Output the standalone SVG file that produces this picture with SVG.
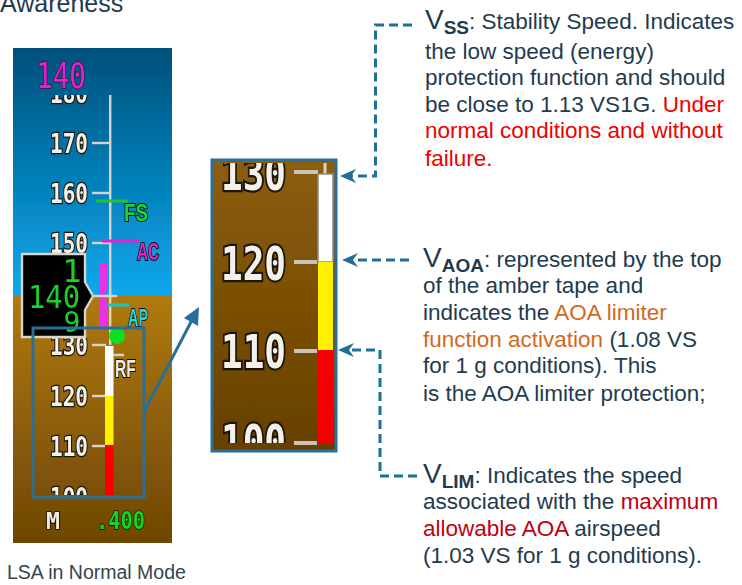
<svg xmlns="http://www.w3.org/2000/svg" width="742" height="585" viewBox="0 0 742 585">
<style>
.t{font-family:"Liberation Sans",Arial,sans-serif;font-size:22.500px;fill:#1f3b4f}
.red{fill:#f00000}.org{fill:#d2691e}.dred{fill:#c00010}
.b{font-weight:bold}
.n{font-family:"DejaVu Sans Mono","Liberation Mono",monospace;font-weight:bold;font-size:27px;fill:#f4f0ea;stroke:#1c1408;stroke-width:2.600px;paint-order:stroke;text-anchor:end}
.big{font-size:46px;stroke-width:4.500px}
.lab{font-family:"Liberation Sans",Arial,sans-serif;font-size:24px;font-weight:bold;stroke:#14100a;stroke-width:2px;paint-order:stroke}
.g{font-family:"DejaVu Sans Mono","Liberation Mono",monospace;fill:#1ad02c}
.tick{stroke:#d8d4cc;stroke-width:2.400}
.dash{fill:none;stroke:#1f6f98;stroke-width:3;stroke-dasharray:9 5}
</style>
<defs>
<linearGradient id="sky" x1="0" y1="0" x2="0" y2="1"><stop offset="0" stop-color="#00507a"/><stop offset="1" stop-color="#0aa8ee"/></linearGradient>
<linearGradient id="gnd" x1="0" y1="0" x2="0" y2="1"><stop offset="0" stop-color="#b07a08"/><stop offset="1" stop-color="#6e4606"/></linearGradient>
<linearGradient id="gnd2" x1="0" y1="0" x2="0" y2="1"><stop offset="0" stop-color="#8d5e08"/><stop offset="1" stop-color="#664004"/></linearGradient>
<clipPath id="c1"><rect x="13" y="95" width="159" height="400"/></clipPath>
<clipPath id="c2"><rect x="214" y="163" width="120" height="280"/></clipPath>
<marker id="ah" markerUnits="userSpaceOnUse" markerWidth="18" markerHeight="16" refX="5" refY="8" orient="auto"><path d="M0 1 L16 8 L0 15 L5 8 Z" fill="#1f6f98"/></marker>
<filter id="soft" x="-5%" y="-5%" width="110%" height="110%"><feGaussianBlur stdDeviation="0.45"/></filter>
</defs>

<text class="t" x="0" y="12" style="font-size:25px">Awareness</text>

<g id="pfd" filter="url(#soft)">
<rect x="13" y="48" width="159" height="248" fill="url(#sky)"/>
<rect x="13" y="295" width="159" height="248" fill="url(#gnd)"/>
<text x="36" y="88" font-family="DejaVu Sans Mono,Liberation Mono,monospace" font-size="35" fill="#e020d0" stroke="#3a1040" stroke-width="1.500" paint-order="stroke" textLength="50" lengthAdjust="spacingAndGlyphs">140</text>
<g clip-path="url(#c1)">
<text class="n" x="88" y="103" textLength="38" lengthAdjust="spacingAndGlyphs">180</text>
<text class="n" x="88" y="507" textLength="38" lengthAdjust="spacingAndGlyphs">100</text>
</g>
<rect x="109" y="95" width="2.400" height="250" fill="#d8d4cc"/>
<text class="n" x="88" y="153" textLength="38" lengthAdjust="spacingAndGlyphs">170</text><line class="tick" x1="92" y1="143" x2="110" y2="143"/>
<text class="n" x="88" y="203" textLength="38" lengthAdjust="spacingAndGlyphs">160</text><line class="tick" x1="92" y1="193" x2="110" y2="193"/>
<text class="n" x="88" y="253" textLength="38" lengthAdjust="spacingAndGlyphs">150</text><line class="tick" x1="92" y1="243" x2="110" y2="243"/>
<text class="n" x="88" y="355" textLength="38" lengthAdjust="spacingAndGlyphs">130</text><line class="tick" x1="92" y1="345" x2="106" y2="345"/>
<text class="n" x="88" y="406" textLength="38" lengthAdjust="spacingAndGlyphs">120</text><line class="tick" x1="92" y1="396" x2="105" y2="396"/>
<text class="n" x="88" y="456" textLength="38" lengthAdjust="spacingAndGlyphs">110</text><line class="tick" x1="92" y1="446" x2="105" y2="446"/>
<line x1="96" y1="201" x2="128" y2="201" stroke="#22c030" stroke-width="3"/>
<text class="lab" x="124" y="221" fill="#18d838" textLength="24" lengthAdjust="spacingAndGlyphs">FS</text>
<line x1="102" y1="241" x2="139" y2="241" stroke="#e020d0" stroke-width="3"/>
<text class="lab" x="137" y="260" fill="#e020d0" textLength="22" lengthAdjust="spacingAndGlyphs">AC</text>
<path d="M99 263H108V288L104 296L108 304V328H99Z" fill="#e830e8"/>
<line class="tick" x1="93" y1="296" x2="117" y2="296"/>
<line x1="108" y1="305" x2="129" y2="305" stroke="#1fc4c4" stroke-width="3"/>
<text class="lab" x="128" y="326" fill="#20d8e0" textLength="20" lengthAdjust="spacingAndGlyphs">AP</text>
<path d="M22 254H85V282L93 296L85 310V337H22Z" fill="#000" stroke="#d8d4cc" stroke-width="2.400"/>
<text class="g" x="28" y="308" font-size="32" textLength="52" lengthAdjust="spacingAndGlyphs">140</text>
<text class="g" x="72" y="282" font-size="32" text-anchor="middle">1</text>
<text class="g" x="72" y="332" font-size="28" text-anchor="middle">9</text>
<circle cx="117" cy="336" r="8" fill="#10e020"/>
<rect x="105" y="346" width="8.500" height="50" fill="#fff"/>
<rect x="105" y="396" width="8.500" height="49" fill="#fff000"/>
<rect x="105" y="445" width="8.500" height="50" fill="#f40000"/>
<line class="tick" x1="113" y1="355" x2="124" y2="355"/>
<text class="lab" x="115" y="377" fill="#f0ece4" textLength="21" lengthAdjust="spacingAndGlyphs">RF</text>
<text x="46" y="529" font-family="DejaVu Sans Mono,Liberation Mono,monospace" font-size="23" font-weight="bold" fill="#f0ece4" stroke="#14100a" stroke-width="1.600" paint-order="stroke" textLength="14" lengthAdjust="spacingAndGlyphs">M</text>
<text x="96" y="529" font-family="DejaVu Sans Mono,Liberation Mono,monospace" font-size="25" font-weight="bold" fill="#10d820" stroke="#14100a" stroke-width="1.400" paint-order="stroke" textLength="49" lengthAdjust="spacingAndGlyphs">.400</text>
</g>

<g id="inset" filter="url(#soft)">
<rect x="212" y="160" width="124" height="291" fill="url(#gnd2)"/>
<g clip-path="url(#c2)">
<text class="n big" x="286" y="190" textLength="65" lengthAdjust="spacingAndGlyphs">130</text>
<text class="n big" x="286" y="280" textLength="65" lengthAdjust="spacingAndGlyphs">120</text>
<text class="n big" x="286" y="368" textLength="65" lengthAdjust="spacingAndGlyphs">110</text>
<text class="n big" x="286" y="458" textLength="65" lengthAdjust="spacingAndGlyphs">100</text>
<line x1="325" y1="163" x2="325" y2="174" stroke="#d8d4cc" stroke-width="3"/>
</g>
<g stroke="#c8c4bc" stroke-width="4"><line x1="294" y1="172" x2="318" y2="172"/><line x1="294" y1="262" x2="317" y2="262"/><line x1="294" y1="351" x2="317" y2="351"/><line x1="294" y1="443" x2="317" y2="443"/></g>
<rect x="318" y="174" width="15" height="88" fill="#fff" stroke="#8a8a90" stroke-width="1.500"/>
<rect x="318" y="262" width="15" height="88" fill="#fff000"/>
<rect x="318" y="350" width="15" height="93" fill="#f40000"/>
</g>
<rect x="212" y="160" width="124" height="291" fill="none" stroke="#2a6f97" stroke-width="3"/>

<g id="connectors">
<rect x="33" y="328" width="111" height="169" fill="none" stroke="#2a6f97" stroke-width="3"/>
<line x1="144" y1="412" x2="192" y2="320" stroke="#2a6f97" stroke-width="3"/>
<path d="M199 307L198 326L184 318Z" fill="#2a6f97"/>
<path class="dash" d="M412 25H375.500V176H351" marker-end="url(#ah)"/>
<path class="dash" d="M409 260H353" marker-end="url(#ah)"/>
<path class="dash" d="M417 476H380V350H349" marker-end="url(#ah)"/>
</g>

<g id="vss">
<text class="t" x="425" y="29"><tspan style="font-size:28px">V</tspan><tspan class="b" style="font-size:19px" dy="5">SS</tspan><tspan dy="-5">: Stability Speed. Indicates</tspan></text>
<text class="t" x="425" y="59">the low speed (energy)</text>
<text class="t" x="425" y="85">protection function and should</text>
<text class="t" x="425" y="112">be close to 1.13 VS1G. <tspan class="red">Under</tspan></text>
<text class="t red" x="425" y="138">normal conditions and without</text>
<text class="t red" x="425" y="166">failure.</text>
</g>
<g id="vaoa">
<text class="t" x="423" y="267"><tspan style="font-size:28px">V</tspan><tspan class="b" style="font-size:19px" dy="5">AOA</tspan><tspan dy="-5">: represented by the top</tspan></text>
<text class="t" x="423" y="293">of the amber tape and</text>
<text class="t" x="423" y="320">indicates the <tspan class="org">AOA limiter</tspan></text>
<text class="t" x="423" y="347"><tspan class="org">function activation</tspan> (1.08 VS</text>
<text class="t" x="423" y="373">for 1 g conditions). This</text>
<text class="t" x="423" y="401">is the AOA limiter protection;</text>
</g>
<g id="vlim">
<text class="t" x="423" y="483"><tspan style="font-size:28px">V</tspan><tspan class="b" style="font-size:19px" dy="5">LIM</tspan><tspan dy="-5">: Indicates the speed</tspan></text>
<text class="t" x="423" y="509">associated with the <tspan class="dred">maximum</tspan></text>
<text class="t" x="423" y="536"><tspan class="dred">allowable AOA</tspan> airspeed</text>
<text class="t" x="423" y="563">(1.03 VS for 1 g conditions).</text>
</g>
<text class="t" x="7" y="579" style="font-size:19.500px;fill:#33454f">LSA in Normal Mode</text>
</svg>
